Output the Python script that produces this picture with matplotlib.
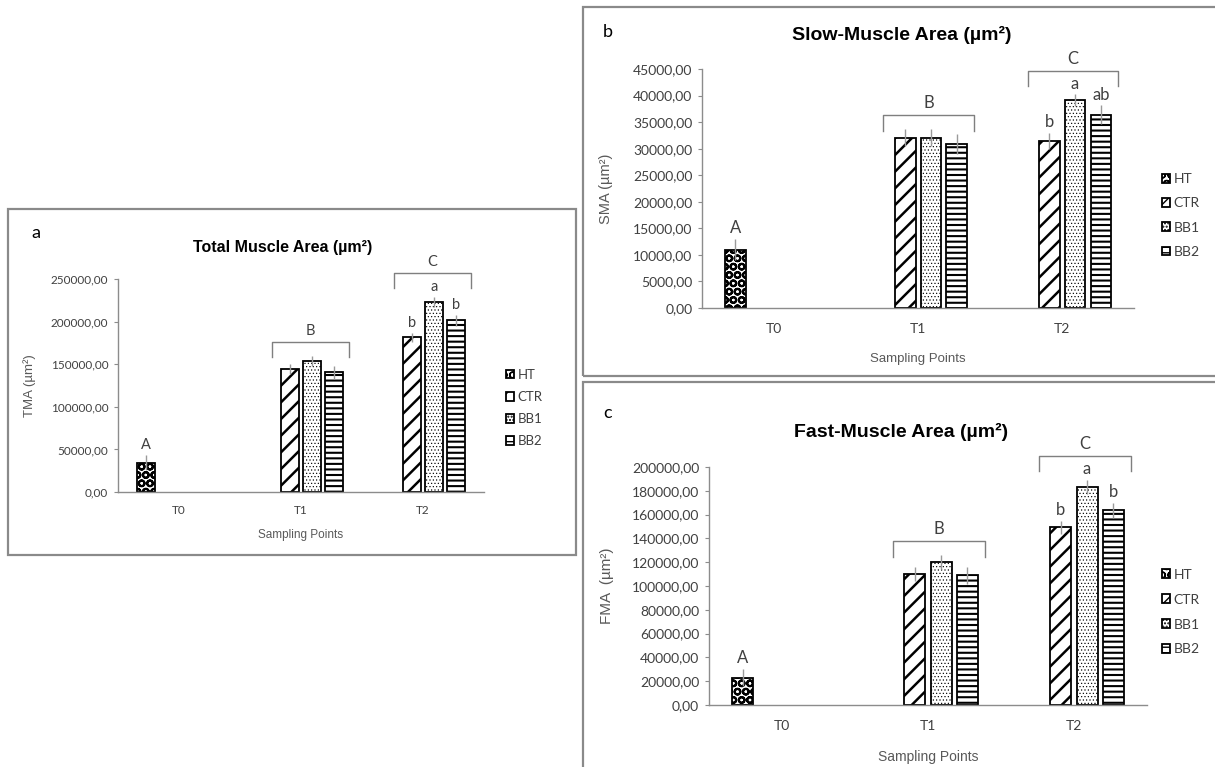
import numpy as np
import matplotlib
matplotlib.use("Agg")
import matplotlib.pyplot as plt
from matplotlib.patches import Rectangle
from matplotlib.ticker import FuncFormatter, MultipleLocator

categories = ["T0", "T1", "T2"]
groups = ["HT", "CTR", "BB1", "BB2"]
point_letters = ["A", "B", "C"]

# rows = groups (HT, CTR, BB1, BB2), columns = sampling points; None = not sampled
tma_mean = [[34400, None, None], [None, 144000, 181600], [None, 154000, 223400], [None, 140500, 201500]]
tma_err = [[9000, None, None], [None, 6000, 5400], [None, 6000, 5900], [None, 7700, 6200]]
tma_letters = ["b", "a", "b"]  # T2, CTR/BB1/BB2

sma_mean = [[11000, None, None], [None, 32070, 31440], [None, 32070, 39100], [None, 30820, 36400]]
sma_err = [[2000, None, None], [None, 1570, 1570], [None, 1600, 1130], [None, 1900, 1750]]
sma_letters = ["b", "a", "ab"]

fma_mean = [[23100, None, None], [None, 110250, 149200], [None, 120250, 183300], [None, 108900, 163600]]
fma_err = [[7500, None, None], [None, 5750, 5800], [None, 5550, 6100], [None, 7100, 6400]]
fma_letters = ["b", "a", "b"]

hatches = ["OO", "//", ".....", "---"]
hatch_lw = [1.5, 1.8, 0.45, 1.5]
CAL = ["Lato", "DejaVu Sans"]
ARI = ["Liberation Sans", "DejaVu Sans"]
GREY = "#7f7f7f"
TXT = "#404040"

fig = plt.figure(figsize=(12.15, 7.67), dpi=100)

# panel frames
for (x, y, w, h) in [(0.0066, 0.2764, 0.4675, 0.4511), (0.4798, 0.5098, 0.53, 0.4811), (0.4798, -0.02, 0.53, 0.522)]:
    fig.add_artist(Rectangle((x, y), w, h, transform=fig.transFigure, fill=False,
                             edgecolor="#8a8a8a", lw=1.6))


def bracket(ax, i, base, up_pt, drop_pt, label, fs):
    k = fig.dpi / 72.0
    X0, Y = ax.transData.transform((i - 0.24, base))
    X1, _ = ax.transData.transform((i + 0.39, base))
    ytop = Y + up_pt * k
    pts = ax.transData.inverted().transform([(X0, ytop - drop_pt * k), (X0, ytop), (X1, ytop), (X1, ytop - drop_pt * k)])
    ax.plot(pts[:, 0], pts[:, 1], color=GREY, lw=1.0, clip_on=False, scalex=False, scaley=False)
    ax.annotate(label, (i + 0.075, pts[1, 1]), xytext=(0, 3), textcoords="offset points",
                ha="center", va="bottom", fontsize=fs, family=CAL, color=TXT, annotation_clip=False)


def panel(rect, mean, err, letters, ymax, ystep, title, title_xy, title_fs, ylabel, ylab_x,
          tick_fs, lab_fs, let_fs, leg_xy, leg_fs, leg_sp, xlab_y, tick_pad):
    ax = fig.add_axes(rect)
    slot = 0.18
    width = 0.145
    x = np.arange(len(categories))
    handles = []
    for j, g in enumerate(groups):
        xs = [x[i] + (j - 1.5) * slot for i in range(len(categories)) if mean[j][i] is not None]
        ys = [v for v in mean[j] if v is not None]
        es = [e for e in err[j] if e is not None]
        bars = ax.bar(xs, ys, width, color="white", edgecolor="black", lw=1.3,
                      hatch=hatches[j], label=g, zorder=2)
        for b in bars:
            if hasattr(b, "set_hatch_linewidth"):
                b.set_hatch_linewidth(hatch_lw[j])
        handles.append(bars)
        ax.errorbar(xs, ys, yerr=es, fmt="none", ecolor="#9a9a9a", elinewidth=1.0, capsize=0, zorder=3)
    ax.set_ylim(0, ymax)
    ax.set_xlim(-0.5, 2.5)

    # letters over single bars
    ax.annotate(point_letters[0], (x[0] - 1.5 * slot, mean[0][0] + err[0][0]), xytext=(0, 2),
                textcoords="offset points", ha="center", va="bottom", fontsize=let_fs, family=CAL, color=TXT)
    for j in range(1, 4):
        ax.annotate(letters[j - 1], (x[2] + (j - 1.5) * slot, mean[j][2] + err[j][2]), xytext=(0, 2),
                    textcoords="offset points", ha="center", va="bottom", fontsize=let_fs, family=CAL,
                    color=TXT, annotation_clip=False)
    top1 = max(mean[j][1] + err[j][1] for j in range(1, 4))
    top2 = max(mean[j][2] + err[j][2] for j in range(1, 4))
    bracket(ax, x[1], top1, 10, 11, point_letters[1], let_fs)
    bracket(ax, x[2], top2, 17, 11, point_letters[2], let_fs)
    ax.set_ylim(0, ymax)

    ax.yaxis.set_major_locator(MultipleLocator(ystep))
    ax.yaxis.set_major_formatter(FuncFormatter(lambda v, p: f"{v:.2f}".replace(".", ",")))
    ax.set_xticks(x)
    ax.set_xticklabels(categories)
    for s in ["top", "right"]:
        ax.spines[s].set_visible(False)
    for s in ["left", "bottom"]:
        ax.spines[s].set_color("#8c8c8c")
        ax.spines[s].set_linewidth(1.0)
    ax.tick_params(axis="y", length=3, color="#8c8c8c", pad=4, labelsize=tick_fs, labelcolor=TXT)
    ax.tick_params(axis="x", length=0, pad=tick_pad, labelsize=tick_fs, labelcolor=TXT)
    for t in ax.get_xticklabels() + ax.get_yticklabels():
        t.set_family(CAL)
    ax.set_xlabel("Sampling Points", fontsize=lab_fs, family=ARI, color="#595959")
    ax.xaxis.set_label_coords(0.5, xlab_y)
    ax.set_ylabel(ylabel, fontsize=lab_fs + 1, family=ARI, color="#595959")
    ax.yaxis.set_label_coords(ylab_x, 0.5)
    fig.text(title_xy[0], title_xy[1], title, ha="center", va="center", fontsize=title_fs,
             fontweight="bold", family=ARI)
    fig.legend(handles, groups, loc="center left", bbox_to_anchor=leg_xy, bbox_transform=fig.transFigure,
               frameon=False, borderpad=0, borderaxespad=0, handlelength=0.6, handleheight=0.6,
               handletextpad=0.25, labelspacing=leg_sp, prop={"family": CAL, "size": leg_fs},
               labelcolor=TXT)
    return ax


panel([0.0971, 0.3585, 0.3012, 0.2777], tma_mean, tma_err, tma_letters, 250000, 50000,
      "Total Muscle Area (µm²)", (0.233, 0.6767), 11.5, "TMA (µm²)", -0.224,
      8.5, 8.5, 10.5, (0.4165, 0.468), 9.5, 0.77, -0.174, 9)
panel([0.5778, 0.5984, 0.3556, 0.3116], sma_mean, sma_err, sma_letters, 45000, 5000,
      "Slow-Muscle Area (µm²)", (0.742, 0.954), 14, "SMA (µm²)", -0.206,
      10, 9.5, 12, (0.9564, 0.719), 10, 0.88, -0.188, 11)
panel([0.5835, 0.0808, 0.3605, 0.3103], fma_mean, fma_err, fma_letters, 200000, 20000,
      "Fast-Muscle Area (µm²)", (0.742, 0.437), 14, "FMA  (µm²)", -0.217,
      10, 10, 12, (0.9564, 0.202), 10, 0.93, -0.189, 11)

fig.text(0.0255, 0.696, "a", fontsize=13, family=CAL, va="center")
fig.text(0.4963, 0.958, "b", fontsize=13, family=CAL, va="center")
fig.text(0.4963, 0.4615, "c", fontsize=13, family=CAL, va="center")

fig.savefig("out.png", dpi=100, facecolor="white")
